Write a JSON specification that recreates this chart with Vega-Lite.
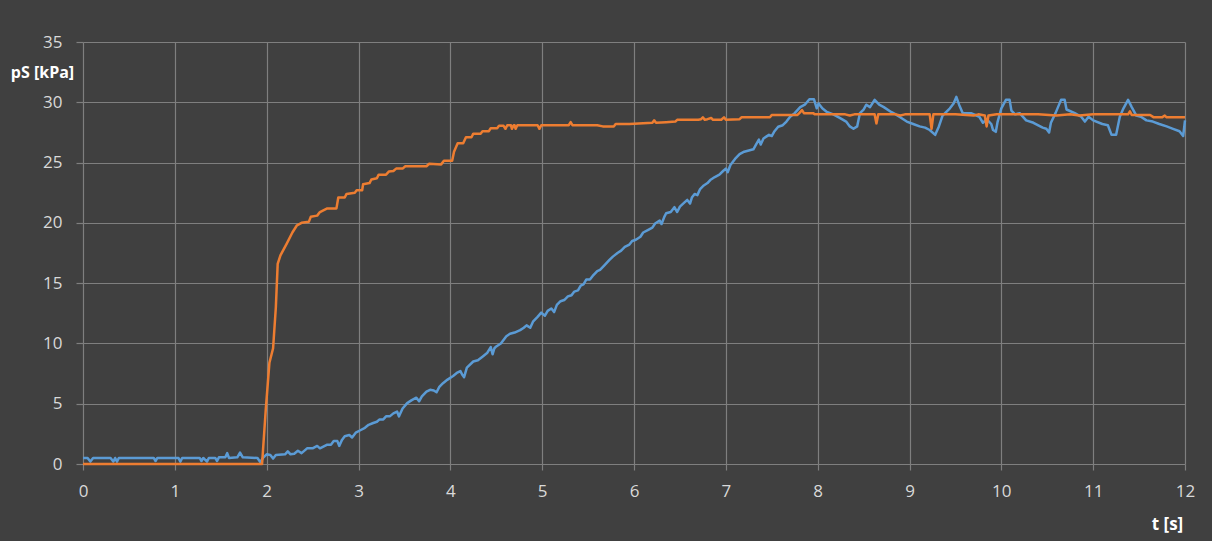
{
  "$schema": "https://vega.github.io/schema/vega-lite/v6.json",
  "width": 1102,
  "height": 422,
  "autosize": {"type": "none"},
  "padding": {"left": 83, "top": 42, "right": 27, "bottom": 77},
  "background": "#404040",
  "config": {
    "view": {"stroke": null},
    "axis": {
      "domain": false,
      "gridColor": "#7f7f7f",
      "gridWidth": 1.2,
      "tickColor": "#7f7f7f",
      "tickWidth": 1.2,
      "labelColor": "#d9d9d9",
      "labelFont": "Open Sans",
      "labelFontSize": 17,
      "labelFlush": false,
      "labelOverlap": false,
      "titleColor": "#ffffff",
      "titleFont": "Open Sans",
      "titleFontWeight": "bold"
    }
  },
  "datasets": {
    "blue": [
      {"t":0,"v":0.5},{"t":0.05,"v":0.5},{"t":0.08,"v":0.2},{"t":0.11,"v":0.5},{"t":0.3,"v":0.5},{"t":0.33,"v":0.2},{"t":0.35,"v":0.5},{"t":0.37,"v":0.2},{"t":0.39,"v":0.5},{"t":0.77,"v":0.5},{"t":0.79,"v":0.25},{"t":0.81,"v":0.5},{"t":1.04,"v":0.5},{"t":1.06,"v":0.2},{"t":1.08,"v":0.5},{"t":1.27,"v":0.5},{"t":1.29,"v":0.25},{"t":1.31,"v":0.5},{"t":1.35,"v":0.2},{"t":1.37,"v":0.5},{"t":1.44,"v":0.5},{"t":1.46,"v":0.25},{"t":1.48,"v":0.55},{"t":1.55,"v":0.55},{"t":1.57,"v":0.9},{"t":1.59,"v":0.5},{"t":1.68,"v":0.55},{"t":1.71,"v":0.95},{"t":1.74,"v":0.55},{"t":1.9,"v":0.5},{"t":1.93,"v":0.15},{"t":1.96,"v":0.5},{"t":2.0,"v":0.8},{"t":2.04,"v":0.75},{"t":2.07,"v":0.45},{"t":2.1,"v":0.75},{"t":2.2,"v":0.8},{"t":2.23,"v":1.05},{"t":2.26,"v":0.8},{"t":2.3,"v":0.85},{"t":2.34,"v":1.1},{"t":2.38,"v":0.9},{"t":2.44,"v":1.3},{"t":2.5,"v":1.3},{"t":2.55,"v":1.5},{"t":2.58,"v":1.3},{"t":2.66,"v":1.6},{"t":2.7,"v":1.6},{"t":2.73,"v":1.9},{"t":2.77,"v":1.9},{"t":2.79,"v":1.5},{"t":2.82,"v":2.0},{"t":2.85,"v":2.3},{"t":2.9,"v":2.4},{"t":2.93,"v":2.2},{"t":2.97,"v":2.6},{"t":3.02,"v":2.8},{"t":3.07,"v":3.0},{"t":3.11,"v":3.25},{"t":3.16,"v":3.4},{"t":3.2,"v":3.5},{"t":3.23,"v":3.7},{"t":3.27,"v":3.7},{"t":3.3,"v":3.95},{"t":3.34,"v":3.95},{"t":3.38,"v":4.2},{"t":3.42,"v":4.35},{"t":3.44,"v":3.95},{"t":3.48,"v":4.6},{"t":3.53,"v":5.05},{"t":3.58,"v":5.3},{"t":3.63,"v":5.5},{"t":3.66,"v":5.2},{"t":3.69,"v":5.6},{"t":3.74,"v":6.0},{"t":3.78,"v":6.15},{"t":3.82,"v":6.1},{"t":3.85,"v":5.95},{"t":3.88,"v":6.4},{"t":3.92,"v":6.7},{"t":3.97,"v":7.0},{"t":4.03,"v":7.3},{"t":4.07,"v":7.55},{"t":4.11,"v":7.7},{"t":4.13,"v":7.4},{"t":4.15,"v":7.2},{"t":4.18,"v":8.0},{"t":4.25,"v":8.5},{"t":4.3,"v":8.6},{"t":4.35,"v":8.9},{"t":4.4,"v":9.2},{"t":4.44,"v":9.7},{"t":4.46,"v":9.1},{"t":4.48,"v":9.6},{"t":4.5,"v":9.75},{"t":4.55,"v":10.0},{"t":4.61,"v":10.6},{"t":4.65,"v":10.8},{"t":4.7,"v":10.9},{"t":4.76,"v":11.1},{"t":4.8,"v":11.3},{"t":4.83,"v":11.5},{"t":4.87,"v":11.3},{"t":4.9,"v":11.8},{"t":4.95,"v":12.2},{"t":4.99,"v":12.55},{"t":5.03,"v":12.3},{"t":5.06,"v":12.7},{"t":5.1,"v":12.9},{"t":5.13,"v":12.6},{"t":5.16,"v":13.2},{"t":5.2,"v":13.5},{"t":5.24,"v":13.6},{"t":5.28,"v":13.9},{"t":5.32,"v":14.0},{"t":5.35,"v":14.3},{"t":5.39,"v":14.4},{"t":5.42,"v":14.8},{"t":5.45,"v":14.9},{"t":5.48,"v":15.3},{"t":5.52,"v":15.3},{"t":5.55,"v":15.6},{"t":5.6,"v":16.0},{"t":5.63,"v":16.1},{"t":5.68,"v":16.5},{"t":5.73,"v":16.9},{"t":5.77,"v":17.2},{"t":5.82,"v":17.5},{"t":5.86,"v":17.7},{"t":5.9,"v":18.0},{"t":5.95,"v":18.2},{"t":5.98,"v":18.5},{"t":6.02,"v":18.6},{"t":6.07,"v":18.85},{"t":6.1,"v":19.2},{"t":6.15,"v":19.4},{"t":6.2,"v":19.6},{"t":6.23,"v":19.95},{"t":6.28,"v":20.2},{"t":6.3,"v":19.9},{"t":6.33,"v":20.5},{"t":6.35,"v":20.8},{"t":6.4,"v":20.9},{"t":6.44,"v":21.3},{"t":6.47,"v":20.9},{"t":6.5,"v":21.35},{"t":6.55,"v":21.7},{"t":6.58,"v":21.9},{"t":6.61,"v":21.6},{"t":6.63,"v":22.1},{"t":6.66,"v":22.4},{"t":6.69,"v":22.3},{"t":6.72,"v":22.8},{"t":6.76,"v":23.1},{"t":6.8,"v":23.3},{"t":6.83,"v":23.55},{"t":6.88,"v":23.8},{"t":6.93,"v":24.0},{"t":6.97,"v":24.3},{"t":7.0,"v":24.5},{"t":7.02,"v":24.2},{"t":7.05,"v":24.8},{"t":7.1,"v":25.3},{"t":7.15,"v":25.7},{"t":7.2,"v":25.9},{"t":7.25,"v":26.0},{"t":7.3,"v":26.1},{"t":7.33,"v":26.5},{"t":7.36,"v":26.9},{"t":7.38,"v":26.5},{"t":7.41,"v":27.0},{"t":7.44,"v":27.15},{"t":7.47,"v":27.3},{"t":7.5,"v":27.2},{"t":7.53,"v":27.6},{"t":7.57,"v":27.97},{"t":7.62,"v":28.1},{"t":7.66,"v":28.4},{"t":7.7,"v":28.8},{"t":7.75,"v":29.1},{"t":7.81,"v":29.6},{"t":7.86,"v":29.8},{"t":7.91,"v":30.25},{"t":7.96,"v":30.25},{"t":7.99,"v":29.5},{"t":8.01,"v":29.9},{"t":8.05,"v":29.5},{"t":8.1,"v":29.2},{"t":8.17,"v":29.0},{"t":8.24,"v":28.7},{"t":8.31,"v":28.4},{"t":8.35,"v":28.0},{"t":8.39,"v":27.8},{"t":8.43,"v":28.0},{"t":8.46,"v":29.1},{"t":8.5,"v":29.4},{"t":8.53,"v":29.8},{"t":8.57,"v":29.6},{"t":8.62,"v":30.2},{"t":8.67,"v":29.8},{"t":8.72,"v":29.6},{"t":8.8,"v":29.2},{"t":8.85,"v":29.0},{"t":8.89,"v":28.8},{"t":8.97,"v":28.4},{"t":9.04,"v":28.2},{"t":9.11,"v":28.0},{"t":9.17,"v":27.9},{"t":9.22,"v":27.7},{"t":9.28,"v":27.3},{"t":9.32,"v":28.0},{"t":9.36,"v":28.9},{"t":9.44,"v":29.5},{"t":9.48,"v":29.9},{"t":9.51,"v":30.45},{"t":9.54,"v":29.8},{"t":9.58,"v":29.1},{"t":9.67,"v":29.1},{"t":9.76,"v":28.8},{"t":9.8,"v":28.3},{"t":9.84,"v":28.6},{"t":9.89,"v":28.2},{"t":9.91,"v":27.7},{"t":9.94,"v":27.55},{"t":9.96,"v":28.4},{"t":10.0,"v":29.5},{"t":10.05,"v":30.2},{"t":10.09,"v":30.2},{"t":10.11,"v":29.3},{"t":10.15,"v":29.0},{"t":10.2,"v":29.1},{"t":10.27,"v":28.5},{"t":10.35,"v":28.3},{"t":10.45,"v":27.9},{"t":10.49,"v":27.8},{"t":10.52,"v":27.5},{"t":10.54,"v":28.3},{"t":10.59,"v":29.1},{"t":10.65,"v":30.2},{"t":10.69,"v":30.2},{"t":10.71,"v":29.4},{"t":10.8,"v":29.1},{"t":10.87,"v":28.8},{"t":10.91,"v":28.4},{"t":10.95,"v":28.8},{"t":11.0,"v":28.5},{"t":11.1,"v":28.2},{"t":11.16,"v":28.1},{"t":11.2,"v":27.3},{"t":11.25,"v":27.3},{"t":11.29,"v":28.8},{"t":11.33,"v":29.5},{"t":11.38,"v":30.2},{"t":11.42,"v":29.6},{"t":11.47,"v":28.9},{"t":11.52,"v":28.8},{"t":11.58,"v":28.5},{"t":11.65,"v":28.4},{"t":11.72,"v":28.2},{"t":11.8,"v":28.0},{"t":11.87,"v":27.8},{"t":11.94,"v":27.6},{"t":11.98,"v":27.2},{"t":12.0,"v":28.5}
    ],
    "orange": [
      {"t":0,"v":0},{"t":1.95,"v":0},{"t":1.99,"v":4.5},{"t":2.03,"v":8.4},{"t":2.07,"v":9.6},{"t":2.1,"v":13},{"t":2.12,"v":16.6},{"t":2.15,"v":17.3},{"t":2.22,"v":18.3},{"t":2.28,"v":19.2},{"t":2.33,"v":19.8},{"t":2.38,"v":20.0},{"t":2.46,"v":20.1},{"t":2.48,"v":20.5},{"t":2.55,"v":20.6},{"t":2.58,"v":20.9},{"t":2.66,"v":21.2},{"t":2.76,"v":21.2},{"t":2.78,"v":22.1},{"t":2.85,"v":22.1},{"t":2.87,"v":22.4},{"t":2.96,"v":22.5},{"t":2.98,"v":22.7},{"t":3.04,"v":22.7},{"t":3.05,"v":23.2},{"t":3.12,"v":23.3},{"t":3.14,"v":23.6},{"t":3.2,"v":23.7},{"t":3.22,"v":24.0},{"t":3.3,"v":24.0},{"t":3.33,"v":24.25},{"t":3.38,"v":24.3},{"t":3.41,"v":24.5},{"t":3.48,"v":24.5},{"t":3.51,"v":24.7},{"t":3.74,"v":24.7},{"t":3.77,"v":24.9},{"t":3.9,"v":24.85},{"t":3.93,"v":25.15},{"t":4.02,"v":25.15},{"t":4.04,"v":25.9},{"t":4.08,"v":26.6},{"t":4.14,"v":26.6},{"t":4.17,"v":27.1},{"t":4.23,"v":27.1},{"t":4.25,"v":27.4},{"t":4.33,"v":27.4},{"t":4.35,"v":27.6},{"t":4.42,"v":27.6},{"t":4.44,"v":27.85},{"t":4.51,"v":27.85},{"t":4.53,"v":28.05},{"t":4.58,"v":28.05},{"t":4.6,"v":27.8},{"t":4.62,"v":28.1},{"t":4.66,"v":28.1},{"t":4.67,"v":27.8},{"t":4.69,"v":28.1},{"t":4.7,"v":28.1},{"t":4.71,"v":27.8},{"t":4.73,"v":28.1},{"t":4.95,"v":28.1},{"t":4.97,"v":27.8},{"t":4.99,"v":28.1},{"t":5.29,"v":28.1},{"t":5.31,"v":28.35},{"t":5.33,"v":28.1},{"t":5.6,"v":28.1},{"t":5.66,"v":28.0},{"t":5.78,"v":28.0},{"t":5.8,"v":28.2},{"t":5.95,"v":28.2},{"t":6.05,"v":28.25},{"t":6.2,"v":28.3},{"t":6.22,"v":28.5},{"t":6.24,"v":28.3},{"t":6.35,"v":28.35},{"t":6.45,"v":28.4},{"t":6.47,"v":28.55},{"t":6.7,"v":28.55},{"t":6.73,"v":28.6},{"t":6.75,"v":28.75},{"t":6.77,"v":28.55},{"t":6.8,"v":28.6},{"t":6.84,"v":28.7},{"t":6.86,"v":28.55},{"t":6.95,"v":28.55},{"t":6.98,"v":28.75},{"t":7.0,"v":28.55},{"t":7.15,"v":28.6},{"t":7.17,"v":28.75},{"t":7.48,"v":28.75},{"t":7.5,"v":28.95},{"t":7.78,"v":28.95},{"t":7.8,"v":29.1},{"t":7.83,"v":29.35},{"t":7.85,"v":29.1},{"t":7.95,"v":29.1},{"t":7.97,"v":29.0},{"t":8.3,"v":29.0},{"t":8.35,"v":28.9},{"t":8.4,"v":29.0},{"t":8.62,"v":29.0},{"t":8.64,"v":28.25},{"t":8.66,"v":29.0},{"t":8.85,"v":29.0},{"t":8.9,"v":28.9},{"t":8.95,"v":29.0},{"t":9.22,"v":29.0},{"t":9.24,"v":27.8},{"t":9.26,"v":29.0},{"t":9.5,"v":29.0},{"t":9.7,"v":28.9},{"t":9.75,"v":29.0},{"t":9.82,"v":28.9},{"t":9.84,"v":28.0},{"t":9.86,"v":28.9},{"t":9.95,"v":29.0},{"t":10.2,"v":29.0},{"t":10.4,"v":29.0},{"t":10.6,"v":28.9},{"t":10.75,"v":29.0},{"t":10.85,"v":28.9},{"t":11.0,"v":29.0},{"t":11.2,"v":29.0},{"t":11.38,"v":29.0},{"t":11.4,"v":29.25},{"t":11.42,"v":28.95},{"t":11.62,"v":28.95},{"t":11.66,"v":28.75},{"t":11.75,"v":28.75},{"t":11.78,"v":28.9},{"t":11.8,"v":28.75},{"t":12.0,"v":28.75}
    ]
  },
  "encoding": {
    "x": {
      "field": "t", "type": "quantitative",
      "scale": {"domain": [0, 12], "nice": false, "zero": false},
      "axis": {
        "values": [0,1,2,3,4,5,6,7,8,9,10,11,12],
        "title": "t [s]",
        "titleFontSize": 17,
        "titleAngle": 0,
        "titleAlign": "center",
        "titleBaseline": "middle",
        "titleX": 1084,
        "titleY": 60,
        "tickSize": 6,
        "labelPadding": 13,
        "grid": true
      }
    },
    "y": {
      "field": "v", "type": "quantitative",
      "scale": {"domain": [0, 35], "nice": false},
      "axis": {
        "values": [0,5,10,15,20,25,30,35],
        "title": "pS [kPa]",
        "titleFontSize": 16,
        "titleAngle": 0,
        "titleAlign": "center",
        "titleBaseline": "middle",
        "titleX": -41,
        "titleY": 30,
        "tickSize": 7,
        "labelPadding": 14,
        "grid": true
      }
    }
  },
  "layer": [
    {
      "data": {"name": "blue"},
      "mark": {"type": "line", "color": "#5b9bd5", "strokeWidth": 2.5, "strokeJoin": "round"}
    },
    {
      "data": {"name": "orange"},
      "mark": {"type": "line", "color": "#ed7d31", "strokeWidth": 2.5, "strokeJoin": "round"}
    }
  ]
}
